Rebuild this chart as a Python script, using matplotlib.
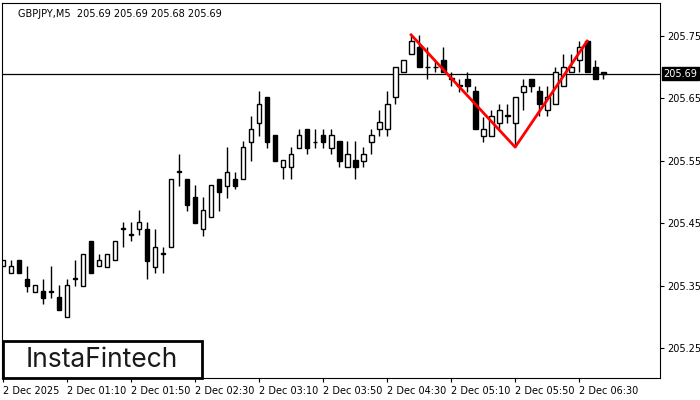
import numpy as np
import matplotlib.pyplot as plt
from matplotlib.patches import Rectangle

# GBPJPY M5 candles
opens = [205.381, 205.370, 205.391, 205.361, 205.340, 205.341, 205.340, 205.332, 205.300, 205.361,
         205.349, 205.421, 205.381, 205.380, 205.391, 205.441, 205.431, 205.441, 205.441, 205.380,
         205.401, 205.412, 205.532, 205.521, 205.492, 205.441, 205.460, 205.521, 205.510, 205.521,
         205.521, 205.580, 205.611, 205.652, 205.591, 205.540, 205.540, 205.571, 205.601, 205.580,
         205.591, 205.571, 205.582, 205.540, 205.551, 205.550, 205.580, 205.601, 205.601, 205.652,
         205.692, 205.721, 205.732, 205.700, 205.700, 205.712, 205.681, 205.670, 205.681, 205.662,
         205.590, 205.590, 205.611, 205.622, 205.611, 205.660, 205.681, 205.662, 205.631, 205.641,
         205.670, 205.692, 205.712, 205.742, 205.700, 205.692]
highs = [205.391, 205.391, 205.391, 205.381, 205.351, 205.361, 205.381, 205.351, 205.361, 205.391,
         205.401, 205.421, 205.401, 205.401, 205.421, 205.452, 205.452, 205.471, 205.452, 205.441,
         205.412, 205.521, 205.561, 205.521, 205.511, 205.492, 205.511, 205.521, 205.572, 205.532,
         205.582, 205.622, 205.662, 205.652, 205.591, 205.551, 205.572, 205.601, 205.601, 205.601,
         205.601, 205.601, 205.582, 205.582, 205.582, 205.572, 205.601, 205.631, 205.662, 205.700,
         205.712, 205.752, 205.752, 205.732, 205.712, 205.732, 205.692, 205.681, 205.692, 205.670,
         205.620, 205.631, 205.641, 205.641, 205.652, 205.681, 205.681, 205.670, 205.670, 205.700,
         205.721, 205.721, 205.742, 205.742, 205.712, 205.692]
lows = [205.381, 205.370, 205.370, 205.340, 205.340, 205.320, 205.330, 205.311, 205.300, 205.349,
        205.349, 205.370, 205.381, 205.380, 205.391, 205.412, 205.421, 205.431, 205.361, 205.370,
        205.370, 205.412, 205.510, 205.470, 205.450, 205.429, 205.460, 205.470, 205.490, 205.505,
        205.521, 205.550, 205.590, 205.571, 205.550, 205.521, 205.521, 205.571, 205.561, 205.571,
        205.571, 205.561, 205.540, 205.540, 205.521, 205.540, 205.561, 205.590, 205.590, 205.641,
        205.692, 205.721, 205.700, 205.681, 205.692, 205.692, 205.670, 205.660, 205.660, 205.601,
        205.580, 205.590, 205.601, 205.611, 205.572, 205.631, 205.660, 205.622, 205.622, 205.641,
        205.670, 205.692, 205.692, 205.692, 205.681, 205.681]
closes = [205.391, 205.381, 205.370, 205.349, 205.351, 205.330, 205.341, 205.311, 205.351, 205.362,
          205.401, 205.370, 205.391, 205.401, 205.421, 205.442, 205.432, 205.452, 205.389, 205.412,
          205.402, 205.521, 205.533, 205.479, 205.450, 205.471, 205.511, 205.500, 205.532, 205.510,
          205.572, 205.601, 205.641, 205.580, 205.550, 205.551, 205.561, 205.591, 205.571, 205.581,
          205.580, 205.591, 205.550, 205.561, 205.540, 205.561, 205.591, 205.612, 205.641, 205.700,
          205.712, 205.742, 205.700, 205.701, 205.701, 205.692, 205.682, 205.671, 205.670, 205.601,
          205.601, 205.622, 205.631, 205.623, 205.652, 205.670, 205.670, 205.641, 205.652, 205.692,
          205.700, 205.700, 205.732, 205.692, 205.681, 205.690]

time_labels = ["2 Dec 2025", "2 Dec 01:10", "2 Dec 01:50", "2 Dec 02:30", "2 Dec 03:10",
               "2 Dec 03:50", "2 Dec 04:30", "2 Dec 05:10", "2 Dec 05:50", "2 Dec 06:30"]
price_ticks = [205.25, 205.35, 205.45, 205.55, 205.65, 205.75]
last_price = 205.69
pattern_idx = [51, 64, 73]  # double top: peak, trough, peak

fig = plt.figure(figsize=(7, 4), dpi=100)
ax = fig.add_axes([2 / 700, 22 / 400, 658 / 700, 375 / 400])

w = 0.6
for i in range(len(opens)):
    o, h, l, c = opens[i], highs[i], lows[i], closes[i]
    top, bot = max(o, c), min(o, c)
    ax.vlines(i, l, bot, color='black', lw=1)
    ax.vlines(i, top, h, color='black', lw=1)
    fc = 'white' if c >= o else 'black'
    ax.add_patch(Rectangle((i - w / 2, bot), w, max(top - bot, 0.0005),
                           facecolor=fc, edgecolor='black', lw=1, zorder=2))

px = pattern_idx
py = [highs[px[0]], lows[px[1]], highs[px[2]]]
ax.plot(px, py, color='#ff0000', lw=2, zorder=3)

ax.axhline(last_price, color='black', lw=0.9, zorder=1)

ax.set_xlim(-0.125, 82.1)
ax.set_ylim(205.202, 205.803)
ax.yaxis.tick_right()
ax.set_yticks(price_ticks)
ax.set_yticklabels([f"{p:.2f}" for p in price_ticks], fontsize=7)
ax.set_xticks(np.arange(0, 8 * len(time_labels), 8))
ax.set_xticklabels(time_labels, fontsize=7, ha='left')
ax.tick_params(axis='both', length=3, pad=2)
ax.tick_params(axis='x', pad=3)

ax.text(1.005, (last_price - 205.202) / (205.803 - 205.202), f"{last_price:.2f}",
        transform=ax.transAxes, fontsize=7, color='white', va='center', ha='left',
        bbox=dict(boxstyle='square,pad=0.15', fc='black', ec='black'))

ax.text(0.025, 0.985, "GBPJPY,M5  205.69 205.69 205.68 205.69", transform=ax.transAxes,
        fontsize=7, va='top', ha='left')

# logo box
fig.patches.append(Rectangle((3 / 700, 22 / 400), 199 / 700, 37 / 400, transform=fig.transFigure,
                             facecolor='white', edgecolor='black', lw=2, zorder=5))
fig.text(102 / 700, 1 - 360 / 400, "InstaFintech", fontsize=19, family='Inter', color='#1a1a1a',
         va='center', ha='center', zorder=6)

fig.savefig("out.png", dpi=100)
